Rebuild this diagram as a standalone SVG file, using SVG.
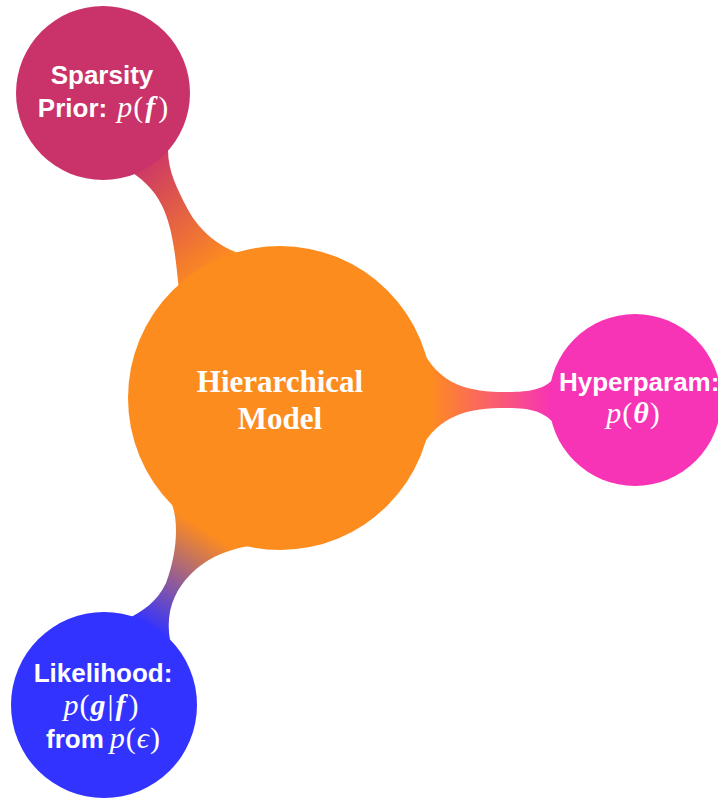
<svg xmlns="http://www.w3.org/2000/svg" width="718" height="798" viewBox="0 0 718 798">
<style>
.lbl{fill:#ffffff;font-family:"Liberation Sans",Arial,sans-serif;font-weight:bold;font-size:26px;text-anchor:middle}
.ctr{fill:#ffffff;font-family:"Liberation Serif","Times New Roman",serif;font-weight:bold;font-size:31px;text-anchor:middle}
.m{font-family:"Liberation Serif","Times New Roman",serif;font-style:italic;font-weight:normal;font-size:30px}
.mu{font-family:"Liberation Serif","Times New Roman",serif;font-style:normal;font-weight:normal;font-size:30px}
.mb{font-family:"Liberation Serif","Times New Roman",serif;font-style:italic;font-weight:bold;font-size:30px}
</style>
<defs>
<linearGradient id="gTop" gradientUnits="userSpaceOnUse" x1="130" y1="165" x2="215" y2="270">
<stop offset="0" stop-color="#C9336A"/><stop offset="1" stop-color="#FD8C1F"/>
</linearGradient>
<linearGradient id="gRight" gradientUnits="userSpaceOnUse" x1="430" y1="400" x2="552" y2="400">
<stop offset="0" stop-color="#FD8C1F"/><stop offset="1" stop-color="#F733B6"/>
</linearGradient>
<linearGradient id="gBot" gradientUnits="userSpaceOnUse" x1="205" y1="530" x2="145" y2="625">
<stop offset="0" stop-color="#FD8C1F"/><stop offset="1" stop-color="#3333FF"/>
</linearGradient>
</defs>
<g id="connectors">
<path d="M128,170 C148,182 158,196 164,210 C174,234 176,262 180,300 L255,258 C218,250 197,228 186,206 C178,190 168,172 168,150 Z" fill="url(#gTop)"/>
<path d="M420,345 C438,386 470,392 506,392 C530,392 545,390 556,376 L556,426 C545,411 530,408 506,408 C470,408 438,414 420,451 Z" fill="url(#gRight)"/>
<path d="M168,497 C178,510 180,545 166,583 C157,602 142,612 125,620 L170,640 C165,612 175,590 190,575 C205,560 222,550 255,545 Z" fill="url(#gBot)"/>
</g>
<g id="center">
<circle cx="280" cy="398" r="152" fill="#FD8C1F"/>
<text class="ctr" x="280" y="392">Hierarchical</text>
<text class="ctr" x="280" y="429">Model</text>
</g>
<g id="sparsity">
<circle cx="103" cy="93" r="87" fill="#C9336A"/>
<text class="lbl" x="102" y="84">Sparsity</text>
<text class="lbl" x="103" y="117">Prior:<tspan class="m" dx="10">p</tspan><tspan class="mu" dx="1">(</tspan><tspan class="mb" dx="2">f</tspan><tspan class="mu" dx="3">)</tspan></text>
</g>
<g id="hyper">
<circle cx="635" cy="400" r="86" fill="#F733B6"/>
<text class="lbl" x="559" y="391" style="text-anchor:start">Hyperparam:</text>
<text class="lbl" x="633" y="423"><tspan class="m">p</tspan><tspan class="mu" dx="1">(</tspan><tspan class="mb" dx="1">θ</tspan><tspan class="mu" dx="1">)</tspan></text>
</g>
<g id="likelihood">
<circle cx="104" cy="705" r="93" fill="#3333FF"/>
<text class="lbl" x="103" y="682">Likelihood:</text>
<text class="lbl" x="101" y="715"><tspan class="m">p</tspan><tspan class="mu" dx="1">(</tspan><tspan class="mb" dx="1">g</tspan><tspan class="mu" dx="2">|</tspan><tspan class="mb" dx="2">f</tspan><tspan class="mu" dx="3">)</tspan></text>
<text class="lbl" x="103" y="748">from<tspan class="m" dx="6">p</tspan><tspan class="mu" dx="1">(</tspan><tspan class="m" dx="1">ϵ</tspan><tspan class="mu" dx="1">)</tspan></text>
</g>
</svg>
